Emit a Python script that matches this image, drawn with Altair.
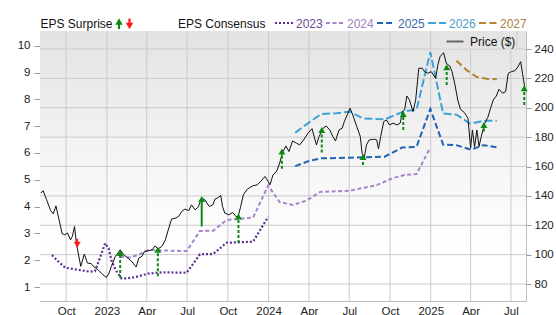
import altair as alt
import pandas as pd

FONT = "Liberation Sans"
W, H = 486, 270

# ---------------- data ----------------
price_dates = [
    "2022-08-05", "2022-08-10", "2022-08-18", "2022-08-27", "2022-09-02", "2022-09-08", "2022-09-15",
    "2022-09-22", "2022-09-28", "2022-10-04", "2022-10-11", "2022-10-15", "2022-10-20", "2022-10-24",
    "2022-11-03", "2022-11-11", "2022-11-18", "2022-11-27", "2022-12-03", "2022-12-12", "2022-12-23",
    "2022-12-31", "2023-01-06", "2023-01-11", "2023-01-20", "2023-01-26", "2023-01-31", "2023-02-08",
    "2023-02-17", "2023-02-26", "2023-03-08", "2023-03-14", "2023-03-21", "2023-03-27", "2023-04-04",
    "2023-04-13", "2023-04-20", "2023-04-26", "2023-05-05", "2023-05-13", "2023-05-19", "2023-05-27",
    "2023-06-06", "2023-06-13", "2023-06-19", "2023-06-26", "2023-07-05", "2023-07-11", "2023-07-19",
    "2023-07-26", "2023-08-03", "2023-08-10", "2023-08-20", "2023-08-28", "2023-09-02", "2023-09-07",
    "2023-09-15", "2023-09-19", "2023-09-24", "2023-10-03", "2023-10-12", "2023-10-19", "2023-10-24",
    "2023-10-30", "2023-11-05", "2023-11-14", "2023-11-26", "2023-12-06", "2023-12-14", "2023-12-24",
    "2023-12-31", "2024-01-04", "2024-01-11", "2024-01-19", "2024-01-26", "2024-02-01", "2024-02-09",
    "2024-02-16", "2024-02-24", "2024-03-04", "2024-03-11", "2024-03-20", "2024-03-30", "2024-04-08",
    "2024-04-18", "2024-04-24", "2024-05-03", "2024-05-10", "2024-05-18", "2024-05-25", "2024-05-31",
    "2024-06-08", "2024-06-15", "2024-06-20", "2024-06-28", "2024-07-03", "2024-07-09", "2024-07-18",
    "2024-07-26", "2024-07-30", "2024-08-04", "2024-08-09", "2024-08-15", "2024-08-27", "2024-09-01",
    "2024-09-05", "2024-09-10", "2024-09-17", "2024-09-23", "2024-09-30", "2024-10-08", "2024-10-17",
    "2024-10-24", "2024-10-29", "2024-11-03", "2024-11-08", "2024-11-14", "2024-11-22", "2024-11-28",
    "2024-12-05", "2024-12-13", "2024-12-18", "2024-12-25", "2025-01-02", "2025-01-12", "2025-01-17",
    "2025-01-22", "2025-01-30", "2025-02-05", "2025-02-13", "2025-02-18", "2025-02-24", "2025-03-03",
    "2025-03-09", "2025-03-18", "2025-03-26", "2025-04-01", "2025-04-05", "2025-04-10", "2025-04-15",
    "2025-04-20", "2025-04-25", "2025-05-03", "2025-05-10", "2025-05-16", "2025-05-22", "2025-05-29",
    "2025-06-04", "2025-06-12", "2025-06-19", "2025-06-25", "2025-07-02", "2025-07-10", "2025-07-17",
    "2025-07-23", "2025-07-27", "2025-08-01",
]
price_values = [
    141.9, 143.6, 137.3, 130.0, 127.8, 133.2, 123.7,
    114.2, 113.5, 114.7, 110.1, 112.4, 119.2, 107.9,
    92.0, 100.4, 94.3, 93.8, 91.6, 89.7, 86.3,
    84.5, 87.5, 92.0, 98.8, 101.1, 103.3, 99.9,
    97.7, 95.4, 91.6, 97.7, 98.8, 102.2, 102.6,
    103.3, 106.0, 103.8, 105.6, 110.1, 116.4, 124.2,
    124.9, 126.4, 129.4, 131.0, 130.0, 133.9, 130.5,
    132.4, 138.5, 137.3, 132.8, 133.9, 137.8, 138.5,
    140.2, 132.8, 128.3, 127.1, 128.7, 126.0, 125.6,
    132.8, 140.7, 144.6, 146.8, 147.5, 149.8, 153.2,
    149.8, 147.5, 154.3, 156.6, 162.3, 169.1, 174.0,
    170.2, 177.4, 175.9, 174.7, 178.1, 182.7, 185.8,
    174.7, 180.4, 186.1, 187.6, 184.9, 180.4, 177.4,
    184.9, 186.1, 190.6, 196.3, 199.7, 195.1, 187.2,
    180.4, 169.1, 166.1, 174.7, 178.1, 178.6, 178.1,
    172.0, 180.4, 190.6, 191.7, 188.3, 189.5, 188.3,
    189.5, 197.4, 198.5, 208.0, 205.3, 197.4, 205.3,
    226.9, 226.9, 224.6, 223.5, 224.6, 220.1, 229.1,
    234.8, 237.5, 230.3, 228.4, 224.6, 216.7, 205.3,
    199.0, 196.7, 192.9, 172.5, 184.9, 173.2, 184.9,
    173.6, 180.4, 189.5, 193.6, 199.7, 205.3, 208.0,
    212.6, 209.9, 211.0, 223.5, 224.6, 225.2, 228.0,
    231.4, 223.5, 214.4,
]

eps_2023_dates = ["2022-08-30", "2022-09-14", "2022-09-29", "2022-10-18", "2022-11-24", "2022-12-05",
                  "2022-12-16", "2022-12-28", "2023-01-05", "2023-01-12", "2023-01-23", "2023-02-03",
                  "2023-02-15", "2023-03-09", "2023-04-04", "2023-05-08", "2023-06-30", "2023-07-30",
                  "2023-08-29", "2023-09-28", "2023-11-27", "2023-12-31"]
eps_2023_values = [2.19, 1.94, 1.72, 1.67, 1.57, 1.59, 2.07, 2.63, 2.44, 1.94, 1.57, 1.32,
                   1.32, 1.38, 1.50, 1.55, 1.53, 2.22, 2.23, 2.65, 2.69, 3.62]

eps_2024_dates = ["2023-01-31", "2023-02-22", "2023-03-16", "2023-04-04", "2023-06-30", "2023-07-30",
                  "2023-08-29", "2023-09-28", "2023-11-27", "2023-12-31", "2024-01-26", "2024-02-25",
                  "2024-03-26", "2024-04-27", "2024-07-02", "2024-09-01", "2024-10-07", "2024-11-03",
                  "2024-11-30", "2024-12-30"]
eps_2024_values = [2.13, 2.10, 2.22, 2.38, 2.34, 3.09, 3.10, 3.50, 3.59, 4.78, 4.17, 4.06,
                   4.22, 4.55, 4.59, 4.80, 5.06, 5.18, 5.21, 6.17]

eps_2025_dates = ["2024-03-01", "2024-04-03", "2024-04-29", "2024-07-02", "2024-08-01", "2024-09-19",
                  "2024-10-28", "2024-11-30", "2024-12-31", "2025-01-29", "2025-02-28", "2025-04-02",
                  "2025-04-30", "2025-05-30"]
eps_2025_values = [5.51, 5.71, 5.80, 5.82, 5.84, 5.86, 6.20, 6.23, 7.64, 6.31, 6.29, 6.12, 6.29, 6.21]

eps_2026_dates = ["2024-03-01", "2024-04-03", "2024-04-29", "2024-06-02", "2024-07-02", "2024-08-01",
                  "2024-09-19", "2024-10-31", "2024-11-30", "2024-12-31", "2025-01-29", "2025-02-28",
                  "2025-03-31", "2025-04-30", "2025-05-30"]
eps_2026_values = [6.75, 7.16, 7.45, 7.48, 7.54, 7.29, 7.25, 7.54, 7.62, 9.76, 7.47, 7.43, 7.09, 7.20, 7.20]

eps_2027_dates = ["2025-02-28", "2025-03-23", "2025-04-14", "2025-05-10", "2025-05-30"]
eps_2027_values = [9.44, 9.09, 8.84, 8.76, 8.75]

surprise_dates = ["2022-10-26", "2023-01-31", "2023-04-26", "2023-08-03", "2023-10-25", "2024-01-31",
                  "2024-04-30", "2024-08-01", "2024-10-31", "2025-02-06", "2025-05-01", "2025-07-31"]
surprise_base = [110.8, 84.1, 85.2, 119.2, 107.9, 158.4, 169.5, 161.1, 184.9, 215.5, 183.8, 201.9]
surprise_head = [106.7, 101.1, 103.3, 137.8, 126.0, 170.2, 184.9, 166.4, 195.8, 227.6, 188.3, 213.3]
surprise_dir = ["down", "up", "up", "up", "up", "up", "up", "up", "up", "up", "up", "up"]
surprise_line = ["solid", "dashed", "dashed", "solid", "dashed", "dashed", "dashed", "dashed",
                 "dashed", "dashed", "dashed", "dashed"]

quarter_ticks = ["2022-10-01", "2023-01-01", "2023-04-01", "2023-07-01", "2023-10-01", "2024-01-01",
                 "2024-04-01", "2024-07-01", "2024-10-01", "2025-01-01", "2025-04-01", "2025-07-01"]
price_ticks = [80, 100, 120, 140, 160, 180, 200, 220, 240]
eps_ticks = [1, 2, 3, 4, 5, 6, 7, 8, 9, 10]

years = ["2023", "2024", "2025", "2026", "2027"]
year_line_colors = ["#5e2f92", "#a584c9", "#2062b3", "#3ea2d9", "#b5812f"]
year_text_colors = ["#6a4a94", "#9d80bf", "#3b67a8", "#4f9bc9", "#a87f3f"]
year_dashes = [[2, 2], [4, 2.5], [6, 3], [8, 3], [7, 3.5]]

# ---------------- scales / axes ----------------
GREEN = "#0b8a12"
RED = "#ff1a1a"
GRID = "#cacaca"


def dt(s):
    y, m, d = (int(v) for v in s.split("-"))
    return alt.DateTime(year=y, month=m, date=d, utc=True)


x_scale = alt.Scale(type="utc", domain=[dt("2022-08-03"), dt("2025-08-04")])
x_axis = alt.Axis(
    values=[dt(s) for s in quarter_ticks],
    labelExpr="utcmonth(datum.value) == 0 ? utcFormat(datum.value, '%Y') : utcFormat(datum.value, '%b')",
    grid=False, ticks=False, domain=False, labelPadding=4, labelFontSize=11.5,
    labelColor="#222222", labelFont=FONT, title=None, labelOverlap=False, labelFlush=False,
)
price_scale = alt.Scale(domain=[68.43, 252.26], nice=False, zero=False)
eps_scale = alt.Scale(domain=[0.478, 10.548], nice=False, zero=False)

price_axis = alt.Axis(orient="right", values=price_ticks, grid=False, domain=False, tickSize=5,
                      tickColor="#9a9a9a", labelPadding=3, labelFontSize=11.5, labelColor="#222222",
                      labelFont=FONT, title=None)
eps_axis = alt.Axis(orient="left", values=eps_ticks, grid=False, domain=False, tickSize=6,
                    tickColor="#9a9a9a", labelPadding=4, labelFontSize=11.5, labelColor="#222222",
                    labelFont=FONT, title=None)


def X(field):
    return alt.X(f"{field}:T", scale=x_scale, axis=x_axis)


def YP(field, axis=None):
    return alt.Y(f"{field}:Q", scale=price_scale, axis=axis)


def YE(field, axis=None):
    return alt.Y(f"{field}:Q", scale=eps_scale, axis=axis)


one = pd.DataFrame({"k": [0]})
layers = []

# background gradient
layers.append(
    alt.Chart(one).mark_rect(
        color=alt.LinearGradient(
            gradient="linear",
            stops=[alt.GradientStop(offset=0, color="#e3e3e3"),
                   alt.GradientStop(offset=0.45, color="#f4f4f4"),
                   alt.GradientStop(offset=0.8, color="#ffffff"),
                   alt.GradientStop(offset=1, color="#ffffff")],
            x1=0, x2=0, y1=0, y2=1,
        )
    ).encode(x=alt.value(0), x2=alt.value("width"), y=alt.value(0), y2=alt.value("height"))
)

# gridlines from tick arrays
layers.append(
    alt.Chart(pd.DataFrame({"p": price_ticks})).mark_rule(color=GRID, strokeWidth=1).encode(y=YP("p"))
)
layers.append(
    alt.Chart(pd.DataFrame({"d": quarter_ticks})).mark_rule(color=GRID, strokeWidth=1).encode(x=X("d"))
)

# Price legend box
layers.append(
    alt.Chart(one).mark_rect(color="#e4e4e4").encode(
        x=alt.value(396), x2=alt.value(477), y=alt.value(0), y2=alt.value(17.5))
)
layers.append(
    alt.Chart(one).mark_rule(color=GRID, strokeWidth=1).encode(
        x=alt.value(477), y=alt.value(0), y2=alt.value(17.5))
)

# EPS consensus lines
eps_series = [
    (eps_2023_dates, eps_2023_values),
    (eps_2024_dates, eps_2024_values),
    (eps_2025_dates, eps_2025_values),
    (eps_2026_dates, eps_2026_values),
    (eps_2027_dates, eps_2027_values),
]
for i, (ds, vs) in enumerate(eps_series):
    df = pd.DataFrame({"date": ds, "eps": vs})
    layers.append(
        alt.Chart(df).mark_line(
            color=year_line_colors[i], strokeWidth=2.2 if i == 0 else 2, strokeDash=year_dashes[i]
        ).encode(x=X("date"), y=YE("eps", eps_axis if i == 0 else None))
    )

# price line
price_df = pd.DataFrame({"date": price_dates, "price": price_values})
layers.append(
    alt.Chart(price_df).mark_line(color="#111111", strokeWidth=1).encode(
        x=X("date"), y=YP("price", price_axis))
)

# surprise arrows
sdf = pd.DataFrame({"date": surprise_dates, "base": surprise_base, "head": surprise_head,
                    "dir": surprise_dir, "line": surprise_line})
up_dashed = sdf[(sdf.dir == "up") & (sdf.line == "dashed")]
up_solid = sdf[(sdf.dir == "up") & (sdf.line == "solid")]
down = sdf[sdf.dir == "down"]
layers.append(
    alt.Chart(up_dashed).mark_rule(color=GREEN, strokeWidth=2, strokeDash=[3, 2]).encode(
        x=X("date"), y=YP("base"), y2="head")
)
layers.append(
    alt.Chart(up_solid).mark_rule(color=GREEN, strokeWidth=2).encode(
        x=X("date"), y=YP("base"), y2="head")
)
layers.append(
    alt.Chart(sdf[sdf.dir == "up"]).mark_point(shape="triangle-up", filled=True, size=48,
                                               color=GREEN, opacity=1).encode(
        x=X("date"), y=YP("head"))
)
layers.append(
    alt.Chart(down).mark_rule(color=RED, strokeWidth=2).encode(x=X("date"), y=YP("base"), y2="head")
)
layers.append(
    alt.Chart(down).mark_point(shape="triangle-down", filled=True, size=48, color=RED, opacity=1).encode(
        x=X("date"), y=YP("head"))
)


# ---------------- legends ----------------
def text(label, px, py, color="#111111", size=12):
    return alt.Chart(one).mark_text(text=label, align="left", baseline="alphabetic", font=FONT,
                                    fontSize=size, color=color).encode(x=alt.value(px), y=alt.value(py))


layers.append(text("EPS Surprise", 0.5, -3.5))
layers.append(alt.Chart(one).mark_rule(color=GREEN, strokeWidth=2.2).encode(
    x=alt.value(79), y=alt.value(-9), y2=alt.value(-2)))
layers.append(alt.Chart(one).mark_point(shape="triangle-up", filled=True, size=55, color=GREEN,
                                        opacity=1).encode(x=alt.value(79), y=alt.value(-9.5)))
layers.append(alt.Chart(one).mark_rule(color=RED, strokeWidth=2.2).encode(
    x=alt.value(89.5), y=alt.value(-12.5), y2=alt.value(-5.5)))
layers.append(alt.Chart(one).mark_point(shape="triangle-down", filled=True, size=55, color=RED,
                                        opacity=1).encode(x=alt.value(89.5), y=alt.value(-5)))

layers.append(text("EPS Consensus", 138, -3.5))
for i, yr in enumerate(years):
    x0 = 235 + 51 * i
    layers.append(alt.Chart(one).mark_rule(color=year_line_colors[i], strokeWidth=2.2 if i == 0 else 2,
                                           strokeDash=year_dashes[i]).encode(
        x=alt.value(x0), x2=alt.value(x0 + 18), y=alt.value(-8), y2=alt.value(-8)))
    layers.append(text(yr, x0 + 21, -3.5, year_text_colors[i]))

layers.append(alt.Chart(one).mark_rule(color="#666666", strokeWidth=2).encode(
    x=alt.value(406.5), x2=alt.value(423.5), y=alt.value(10.5), y2=alt.value(10.5)))
layers.append(text("Price ($)", 430, 15))

chart = alt.layer(*layers).resolve_scale(y="independent").properties(
    width=W, height=H,
    padding={"left": 40, "top": 31, "right": 30, "bottom": 14},
    autosize=alt.AutoSizeParams(type="none"),
).configure_view(stroke="#bdbdbd")

chart.save("out.html", embed_options={"renderer": "svg", "actions": False})
